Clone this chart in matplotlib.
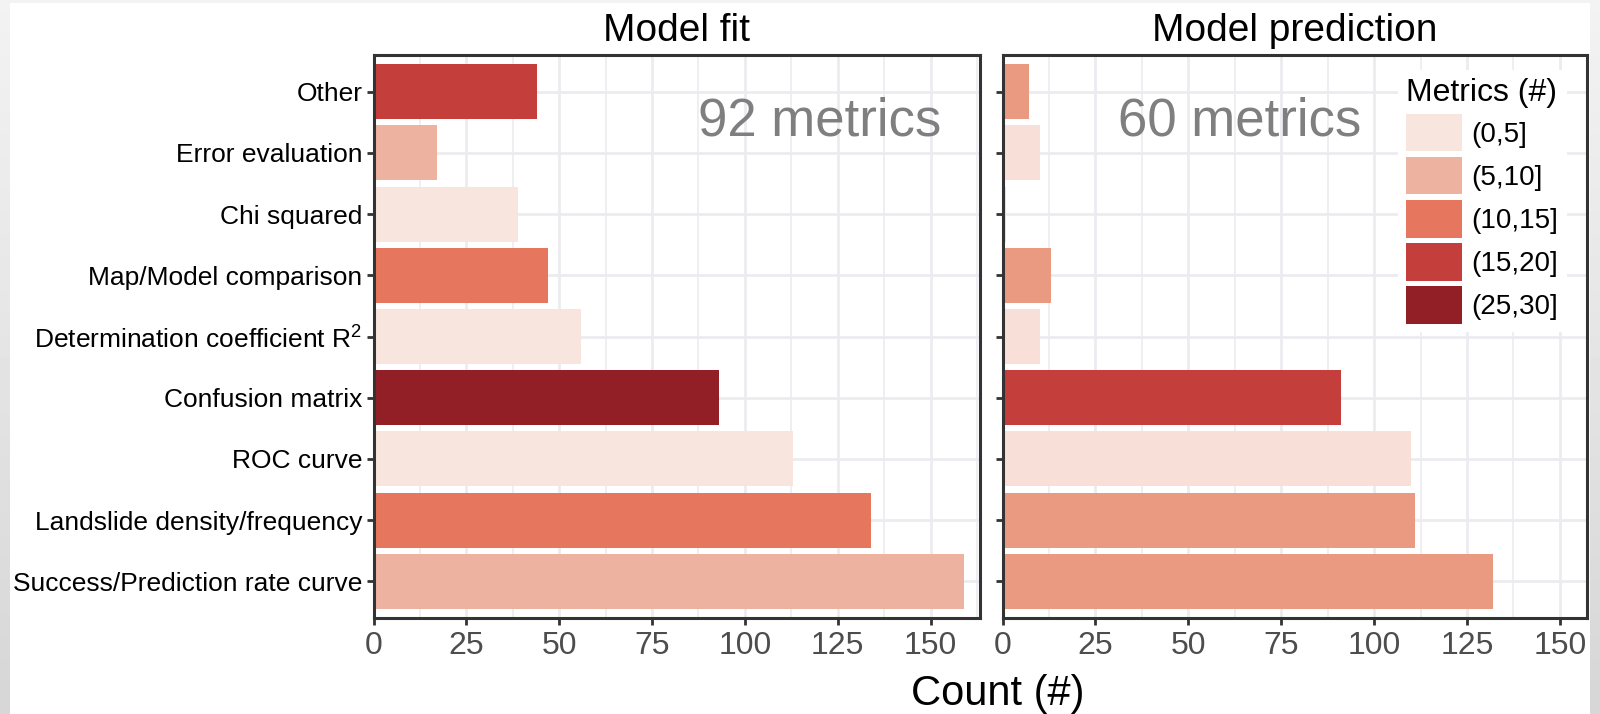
import numpy as np
import matplotlib.pyplot as plt
from matplotlib.patches import Patch

plt.rcParams['font.family'] = ['Liberation Sans', 'DejaVu Sans']
plt.rcParams['mathtext.fontset'] = 'custom'
plt.rcParams['mathtext.rm'] = 'Liberation Sans'

# categories from bottom to top
categories = ['Success/Prediction rate curve', 'Landslide density/frequency', 'ROC curve',
              'Confusion matrix', r'Determination coefficient R$^{\mathrm{2}}$',
              'Map/Model comparison', 'Chi squared', 'Error evaluation', 'Other']

fit_counts = [159, 134, 113, 93, 56, 47, 39, 17, 44]
fit_bins = ['(5,10]', '(10,15]', '(0,5]', '(25,30]', '(0,5]', '(10,15]', '(0,5]', '(5,10]', '(15,20]']

pred_counts = [132, 111, 110, 91, 10, 13, 1, 10, 7]
pred_bins = ['(5,10]', '(5,10]', '(0,5]', '(15,20]', '(0,5]', '(5,10]', '(0,5]', '(0,5]', '(5,10]']

panel_titles = ['Model fit', 'Model prediction']
metric_totals = [92, 60]
bin_labels = ['(0,5]', '(5,10]', '(10,15]', '(15,20]', '(25,30]']
x_ticks = [0, 25, 50, 75, 100, 125, 150]

fit_colors = {'(0,5]': '#F8E5DE', '(5,10]': '#EEB3A0', '(10,15]': '#E7765F',
              '(15,20]': '#C43E3B', '(25,30]': '#921F25'}
pred_colors = {'(0,5]': '#F8E0D8', '(5,10]': '#E99A81', '(10,15]': '#E7765F',
               '(15,20]': '#C43E3B', '(25,30]': '#921F25'}

W, H = 1600, 714
fig = plt.figure(figsize=(W / 100, H / 100), dpi=100)

# grey frame round the white page
bg = fig.add_axes([0, 0, 1, 1], zorder=-10)
bg.imshow(np.linspace(0.95, 0.84, 64)[:, None], cmap='gray', vmin=0, vmax=1,
          aspect='auto', extent=[0, 1, 0, 1])
bg.axvspan(10 / W, 1590 / W, ymin=0, ymax=1 - 3 / H, color='white', lw=0)
bg.set_xlim(0, 1)
bg.set_ylim(0, 1)
bg.axis('off')


def px_axes(x0, x1, y0, y1):
    return fig.add_axes([x0 / W, 1 - y1 / H, (x1 - x0) / W, (y1 - y0) / H])


ax_fit = px_axes(373.5, 980, 55, 618)
ax_pred = px_axes(1002.5, 1587, 55, 618)
ypos = np.arange(len(categories))

panels = [(ax_fit, fit_counts, fit_bins, fit_colors, 163.3, 820),
          (ax_pred, pred_counts, pred_bins, pred_colors, 157.3, 1240)]

for i, (ax, counts, bins, cmap, xmax, note_x) in enumerate(panels):
    ax.barh(ypos, counts, height=0.9, color=[cmap[b] for b in bins], zorder=2)
    ax.set_xlim(0, xmax)
    ax.set_ylim(-0.6, len(categories) - 0.4)
    ax.set_xticks(x_ticks)
    ax.set_xticks(np.arange(12.5, xmax, 25), minor=True)
    ax.set_yticks(ypos)
    ax.set_yticklabels(categories if i == 0 else [''] * len(categories))
    ax.set_axisbelow(True)
    ax.grid(which='major', color='#EBEBF0', lw=1.9)
    ax.grid(which='minor', axis='x', color='#EBEBF0', lw=1.1)
    for s in ax.spines.values():
        s.set_color('#333333')
        s.set_linewidth(2.2)
    ax.tick_params(axis='x', which='major', length=5, width=2, color='#333333',
                   labelsize=23, labelcolor='#4D4D4D', pad=4)
    ax.tick_params(axis='y', which='major', length=5, width=2, color='#333333',
                   labelsize=19, labelcolor='black', pad=3)
    ax.tick_params(which='minor', length=0)
    ax.set_title(panel_titles[i], fontsize=28, pad=10)
    fig.text(note_x / W, 1 - 122 / H, f'{metric_totals[i]} metrics',
             ha='center', va='center', fontsize=38, color='#7F7F7F', zorder=6)

fig.text(998 / W, 1 - 694 / H, 'Count (#)', ha='center', va='center', fontsize=30)

handles = [Patch(facecolor=fit_colors[b], edgecolor='none', label=b) for b in bin_labels]
leg = ax_pred.legend(handles=handles, title='Metrics (#)', loc='upper left',
                     bbox_to_anchor=(1398 / W, 1 - 70 / H), bbox_transform=fig.transFigure,
                     fontsize=20, title_fontsize=23, frameon=True, fancybox=False,
                     framealpha=1, edgecolor='none', facecolor='white',
                     handlelength=2.0, handleheight=1.7, labelspacing=0.2,
                     handletextpad=0.35, borderpad=0.3, borderaxespad=0,
                     alignment='left')
leg.set_zorder(5)

fig.savefig('out.png', dpi=100)
